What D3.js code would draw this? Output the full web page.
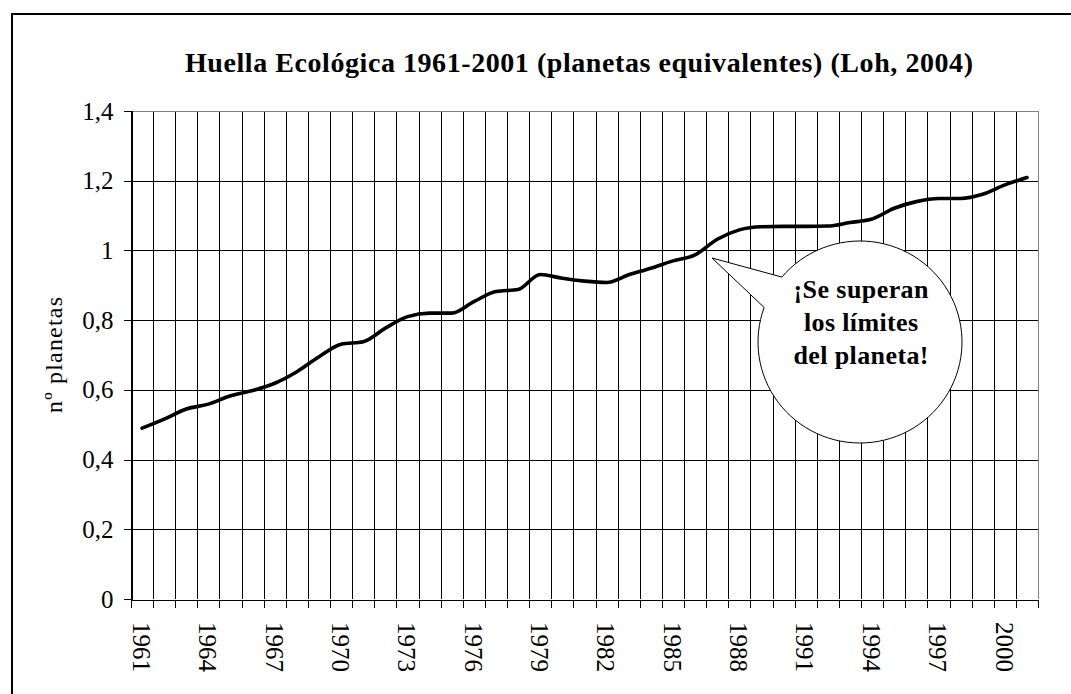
<!DOCTYPE html>
<html>
<head>
<meta charset="utf-8">
<script src="https://cdn.jsdelivr.net/npm/d3@7"></script>
<style>
  html, body { margin: 0; padding: 0; background: #fff; }
  svg { display: block; font-family: "Liberation Serif", "Times New Roman", serif; }
</style>
</head>
<body>
<div id="chart"></div>
<script>
// data
const years = d3.range(1961, 2002);
const planets = [
  0.490, 0.516, 0.545, 0.559, 0.583, 0.598, 0.619, 0.652, 0.695, 0.731,
  0.738, 0.777, 0.810, 0.820, 0.820, 0.853, 0.882, 0.888, 0.931, 0.920,
  0.912, 0.908, 0.930, 0.949, 0.970, 0.987, 1.032, 1.059, 1.068, 1.069,
  1.069, 1.070, 1.080, 1.090, 1.121, 1.140, 1.149, 1.149, 1.161, 1.188,
  1.209
];
const yTicks = [0, 0.2, 0.4, 0.6, 0.8, 1.0, 1.2, 1.4];
const labelYears = d3.range(1961, 2001, 3);
const titleText = "Huella Ecológica 1961-2001 (planetas equivalentes) (Loh, 2004)";
const yLabel = "nº planetas";
const calloutLines = ["¡Se superan", "los límites", "del planeta!"];

const width = 1071, height = 694;
const plot = { left: 131, right: 1038, top: 111, bottom: 599 };

const svg = d3.select("#chart")
  .append("svg")
  .attr("width", width)
  .attr("height", height);

svg.append("rect")
  .attr("width", width).attr("height", height)
  .attr("fill", "#fff");

// outer chart border (only top + left fall inside the picture)
svg.append("path")
  .attr("d", `M12,${height + 5} V14 H${width + 5}`)
  .attr("fill", "none")
  .attr("stroke", "#000")
  .attr("stroke-width", 2);

const x = d3.scaleLinear()
  .domain([1960.5, 2001.5])
  .range([plot.left, plot.right]);

const y = d3.scaleLinear()
  .domain([0, 1.4])
  .range([plot.bottom, plot.top]);

const boundaries = d3.range(1960.5, 2002, 1);

// --- GRID ---
const grid = svg.append("g")
  .attr("shape-rendering", "crispEdges")
  .attr("stroke-width", 1);

grid.selectAll("line.v")
  .data(boundaries)
  .join("line")
  .attr("class", "v")
  .attr("x1", d => Math.round(x(d)) + 0.5)
  .attr("x2", d => Math.round(x(d)) + 0.5)
  .attr("y1", plot.top)
  .attr("y2", plot.bottom)
  .attr("stroke", (d, i) => i === boundaries.length - 1 ? "#808080" : "#000");

grid.selectAll("line.h")
  .data(yTicks.slice(1))
  .join("line")
  .attr("class", "h")
  .attr("x1", plot.left)
  .attr("x2", plot.right)
  .attr("y1", d => Math.round(y(d)) + 0.5)
  .attr("y2", d => Math.round(y(d)) + 0.5)
  .attr("stroke", d => d === 1.4 ? "#808080" : "#000");

// --- AXES ---
const fmt = d => String(+d.toFixed(1)).replace(".", ",");

const yAxis = svg.append("g")
  .attr("transform", `translate(${plot.left + 0.5},0)`)
  .call(d3.axisLeft(y).tickValues(yTicks).tickFormat(fmt).tickSize(8).tickPadding(10));

yAxis.select(".domain").attr("stroke", "#000").attr("shape-rendering", "crispEdges");
yAxis.selectAll(".tick line").attr("stroke", "#000").attr("shape-rendering", "crispEdges");
yAxis.selectAll(".tick text")
  .attr("font-family", "Liberation Serif, serif")
  .attr("font-size", 25)
  .attr("fill", "#000");

const xAxis = svg.append("g")
  .attr("transform", `translate(0,${plot.bottom + 0.5})`)
  .call(d3.axisBottom(x).tickValues(boundaries).tickFormat("").tickSize(8).tickSizeOuter(0));

xAxis.select(".domain").attr("stroke", "#000").attr("shape-rendering", "crispEdges");
xAxis.selectAll(".tick line").attr("stroke", "#000").attr("shape-rendering", "crispEdges");

// year labels, rotated, every third year
svg.append("g")
  .selectAll("text")
  .data(labelYears)
  .join("text")
  .attr("transform", d => `translate(${x(d) - 1},${plot.bottom + 23}) rotate(90)`)
  .attr("dy", "0.33em")
  .attr("font-size", 25)
  .attr("fill", "#000")
  .text(d => d);

// --- TITLES ---
svg.append("text")
  .attr("x", 579)
  .attr("y", 72)
  .attr("text-anchor", "middle")
  .attr("font-size", 28)
  .attr("font-weight", "bold")
  .attr("textLength", 788)
  .attr("lengthAdjust", "spacing")
  .text(titleText);

svg.append("text")
  .attr("transform", "translate(62,355) rotate(-90)")
  .attr("text-anchor", "middle")
  .attr("font-size", 24)
  .attr("textLength", 116)
  .attr("lengthAdjust", "spacing")
  .text(yLabel);

// --- LINE ---
const line = d3.line()
  .x((d, i) => x(years[i]))
  .y(d => y(d))
  .curve(d3.curveMonotoneX);

svg.append("path")
  .datum(planets)
  .attr("d", line)
  .attr("fill", "none")
  .attr("stroke", "#000")
  .attr("stroke-width", 3.6)
  .attr("stroke-linejoin", "round")
  .attr("stroke-linecap", "round");

// --- CALLOUT ---
const cx = 860, cy = 342, rx = 102, ry = 101;
const a1 = -140 * Math.PI / 180, a2 = -160 * Math.PI / 180;
const p1 = [cx + rx * Math.cos(a1), cy + ry * Math.sin(a1)];
const p2 = [cx + rx * Math.cos(a2), cy + ry * Math.sin(a2)];
const tip = [712, 258];

svg.append("path")
  .attr("d", `M${p1} L${tip} L${p2} A${rx},${ry} 0 1 0 ${p1} Z`)
  .attr("fill", "#fff")
  .attr("stroke", "#000")
  .attr("stroke-width", 1);

const calloutWidths = [135, 114, 135];

svg.append("g")
  .selectAll("text")
  .data(calloutLines)
  .join("text")
  .attr("x", 861)
  .attr("y", (d, i) => 298 + i * 33)
  .attr("text-anchor", "middle")
  .attr("font-size", 26)
  .attr("font-weight", "bold")
  .attr("textLength", (d, i) => calloutWidths[i])
  .attr("lengthAdjust", "spacing")
  .text(d => d);
</script>
</body>
</html>
